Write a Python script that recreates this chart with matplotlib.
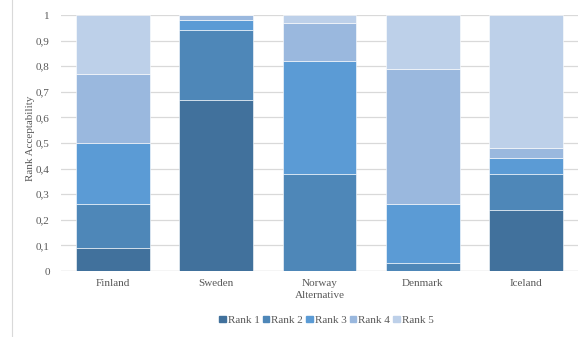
import numpy as np
import matplotlib.pyplot as plt
from matplotlib.lines import Line2D

countries = ["Finland", "Sweden", "Norway", "Denmark", "Iceland"]
rank_names = ["Rank 1", "Rank 2", "Rank 3", "Rank 4", "Rank 5"]
rank1 = [0.09, 0.67, 0.00, 0.00, 0.24]
rank2 = [0.17, 0.27, 0.38, 0.03, 0.14]
rank3 = [0.24, 0.04, 0.44, 0.23, 0.06]
rank4 = [0.27, 0.02, 0.15, 0.53, 0.04]
rank5 = [0.23, 0.00, 0.03, 0.21, 0.52]
yticks = [0, 0.1, 0.2, 0.3, 0.4, 0.5, 0.6, 0.7, 0.8, 0.9, 1]
ytick_labels = ["0", "0,1", "0,2", "0,3", "0,4", "0,5", "0,6", "0,7", "0,8", "0,9", "1"]

colors = ["#41719C", "#4E87B8", "#5B9BD5", "#9AB8DE", "#BDD0E9"]
gray = "#595959"

plt.rcParams['font.family'] = ['Liberation Serif', 'DejaVu Serif']

fig = plt.figure(figsize=(5.83, 3.37), dpi=100)
ax = fig.add_axes([0.1046, 0.1958, 0.8868, 0.7596])

x = np.arange(len(countries))
bottom = np.zeros(len(countries))
for name, vals, c in zip(rank_names, [rank1, rank2, rank3, rank4, rank5], colors):
    ax.bar(x, vals, 0.715, bottom=bottom, color=c, label=name,
           edgecolor="white", linewidth=0.4, zorder=3)
    bottom += np.array(vals)

ax.set_xlim(-0.5, 4.5)
ax.set_ylim(0, 1)
ax.set_yticks(yticks)
ax.set_yticklabels(ytick_labels)
ax.set_xticks(x)
ax.set_xticklabels(countries)
ax.tick_params(axis="y", length=0, pad=8, labelsize=8, labelcolor=gray)
ax.tick_params(axis="x", length=0, pad=6, labelsize=8, labelcolor=gray)
ax.grid(axis="y", color="#D9D9D9", linewidth=0.9, zorder=0)
for s in ax.spines.values():
    s.set_visible(False)
ax.axhline(0, color="#D9D9D9", linewidth=0.9, zorder=1)

ax.set_xlabel("Alternative", fontsize=8, color=gray, labelpad=2)
ax.set_ylabel("Rank Acceptability", fontsize=8, color=gray)
ax.yaxis.set_label_coords(-0.05, 0.52)

handles = [plt.Rectangle((0, 0), 1, 1, color=c) for c in colors]
fig.legend(handles, rank_names, loc="center", bbox_to_anchor=(0.56, 0.05),
           ncol=5, frameon=False, fontsize=8, labelcolor=gray,
           handlelength=0.55, handleheight=0.55, handletextpad=0.2, columnspacing=0.3)

fig.add_artist(Line2D([12 / 583, 12 / 583], [0, 1], color="#D9D9D9", linewidth=0.8))

fig.savefig("out.png", dpi=100)
